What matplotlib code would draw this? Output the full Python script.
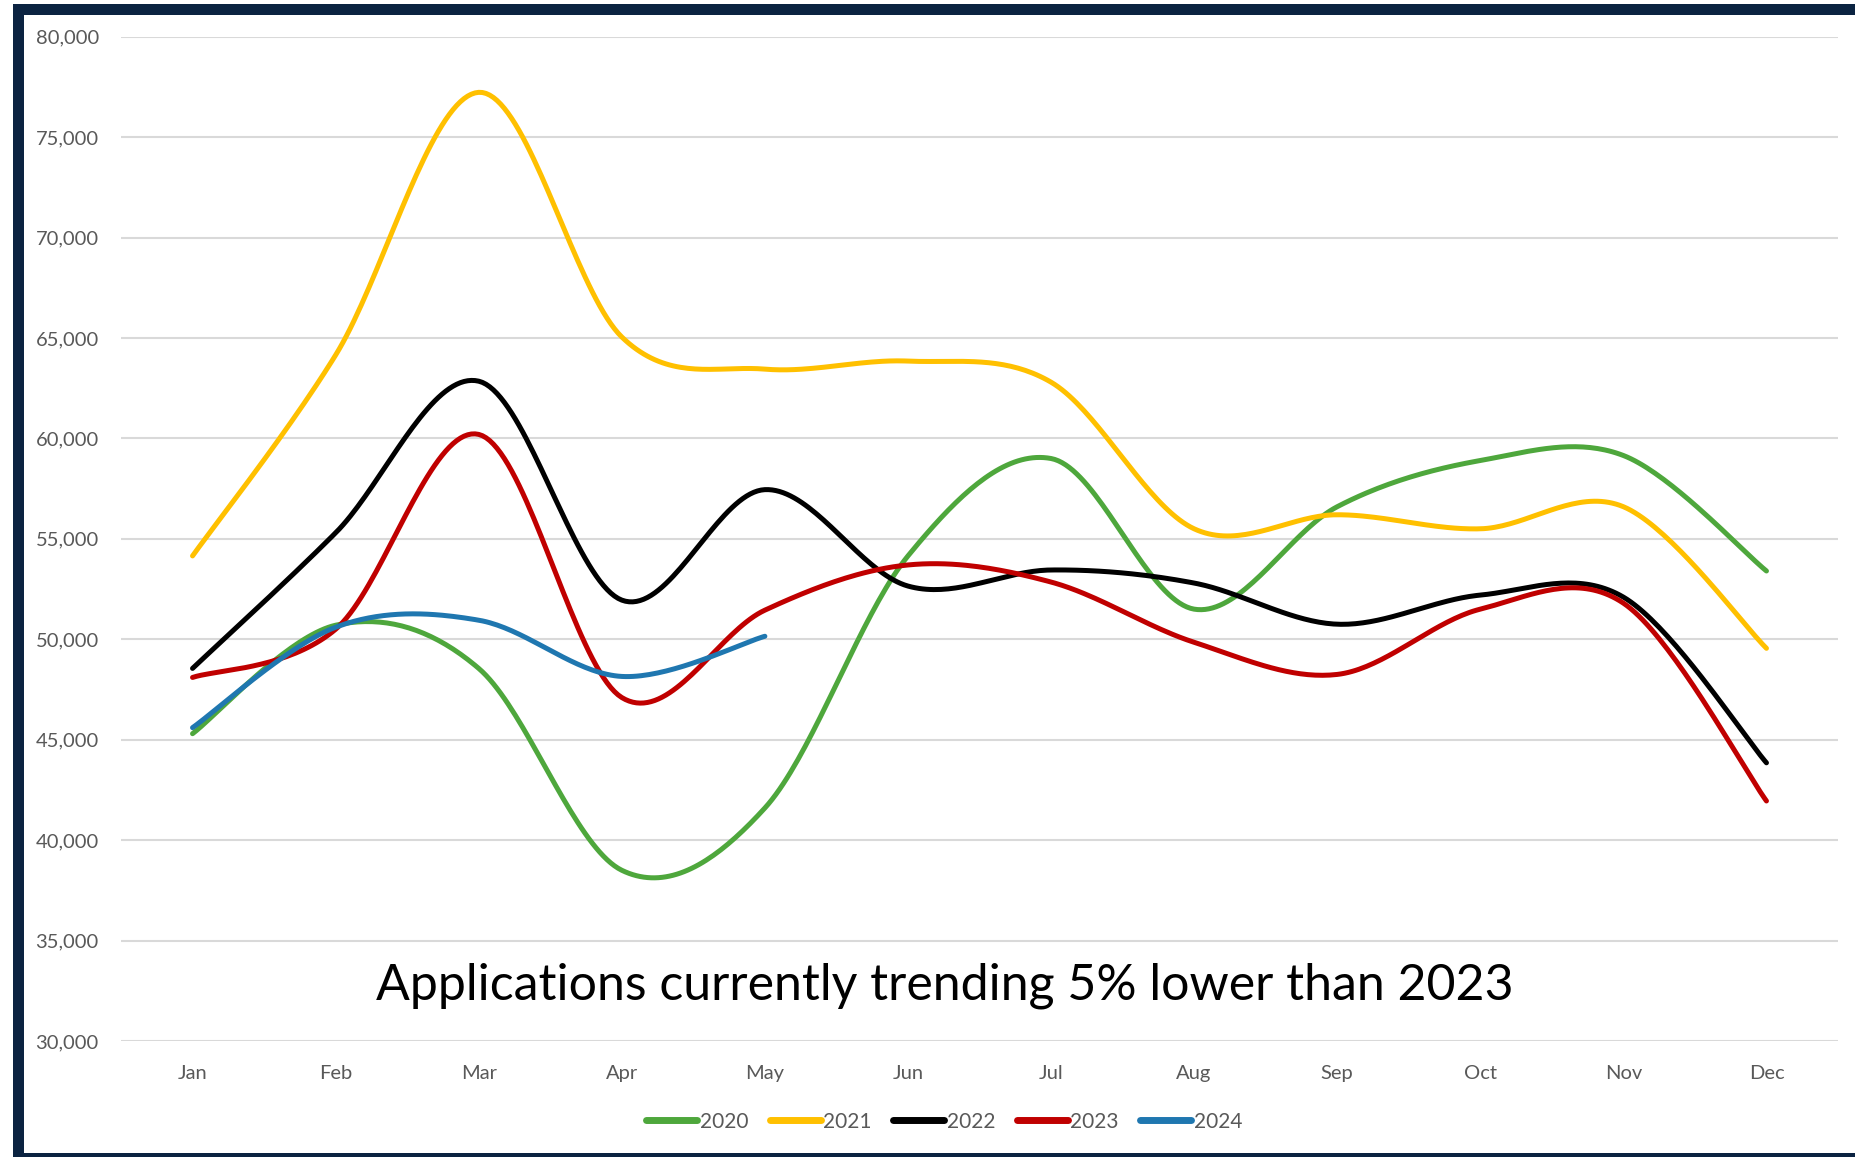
import numpy as np
import matplotlib
matplotlib.use('Agg')
import matplotlib.pyplot as plt
from matplotlib.patches import Rectangle
from matplotlib.ticker import FuncFormatter

months = ['Jan', 'Feb', 'Mar', 'Apr', 'May', 'Jun', 'Jul', 'Aug', 'Sep', 'Oct', 'Nov', 'Dec']

apps_2020 = [45300, 50700, 48550, 38500, 41600, 54150, 59000, 51500, 56600, 58900, 59150, 53400]
apps_2021 = [54150, 64150, 77230, 65050, 63450, 63850, 62800, 55500, 56200, 55500, 56600, 49550]
apps_2022 = [48550, 55300, 62850, 51950, 57450, 52650, 53450, 52800, 50750, 52200, 52100, 43850]
apps_2023 = [48100, 50500, 60200, 47100, 51450, 53700, 52850, 49850, 48250, 51500, 51800, 41950]
apps_2024 = [45600, 50600, 50950, 48150, 50150]

series = [('2020', apps_2020, '#4ea73c'),
          ('2021', apps_2021, '#ffc000'),
          ('2022', apps_2022, '#000000'),
          ('2023', apps_2023, '#c00000'),
          ('2024', apps_2024, '#1f77b0')]

note = 'Applications currently trending 5% lower than 2023'


def smooth(xs, ys, n=40):
    # excel-style smoothed line (bezier through the points)
    p = np.column_stack([xs, ys]).astype(float)
    out = []
    for i in range(len(p) - 1):
        p0 = p[i - 1] if i > 0 else p[i]
        p1 = p[i]
        p2 = p[i + 1]
        p3 = p[i + 2] if i + 2 < len(p) else p[i + 1]
        b1 = p1 + (p2 - p0) / 6.0
        b2 = p2 - (p3 - p1) / 6.0
        t = np.linspace(0, 1, n)[:, None]
        seg = ((1 - t) ** 3) * p1 + 3 * ((1 - t) ** 2) * t * b1 + 3 * (1 - t) * t ** 2 * b2 + t ** 3 * p2
        out.append(seg if i == 0 else seg[1:])
    out = np.vstack(out)
    return out[:, 0], out[:, 1]


W, H = 1855, 1157
fig = plt.figure(figsize=(W / 100, H / 100), dpi=100)
plt.rcParams['font.family'] = ['Lato', 'DejaVu Sans']

# navy frame
fig.patches.append(Rectangle((13 / W, 0), 1.0, 1 - 4 / H, transform=fig.transFigure,
                             facecolor='#0b2341', edgecolor='none', zorder=-2))
fig.patches.append(Rectangle((24 / W, 4 / H), 1.0, 1 - 19 / H, transform=fig.transFigure,
                             facecolor='white', edgecolor='none', zorder=-1))

ax = fig.add_axes([121 / W, 1 - 1041 / H, (1838 - 121) / W, (1041 - 36.7) / H])
ax.set_facecolor('none')

for name, vals, col in series:
    x = np.arange(len(vals))
    sx, sy = smooth(x, vals)
    ax.plot(sx, sy, color=col, lw=3.6, solid_capstyle='round', label=name, zorder=3)

ax.set_xlim(-0.5, 11.5)
ax.set_ylim(30000, 80000)
ax.set_yticks(np.arange(30000, 80001, 5000))
ax.yaxis.set_major_formatter(FuncFormatter(lambda v, p: '{:,.0f}'.format(v)))
ax.set_xticks(range(12))
ax.set_xticklabels(months)
ax.grid(axis='y', color='#d9d9d9', lw=1.5, zorder=1)
ax.set_axisbelow(True)
for s in ax.spines.values():
    s.set_visible(False)
ax.tick_params(axis='both', length=0, colors='#595959', labelsize=14.5)
ax.tick_params(axis='y', pad=16)
ax.tick_params(axis='x', pad=17)

ax.text(5.255, 32750, note, ha='center', va='center', fontsize=36, color='black')

leg = fig.legend(loc='center', bbox_to_anchor=(0.509, 1 - 1121.5 / H), ncol=5, frameon=False,
                 fontsize=15, handlelength=2.45, handletextpad=0.1, columnspacing=1.05)
for t in leg.get_texts():
    t.set_color('#595959')
for l in leg.get_lines():
    l.set_linewidth(5)

plt.savefig('out.png', dpi=100)
